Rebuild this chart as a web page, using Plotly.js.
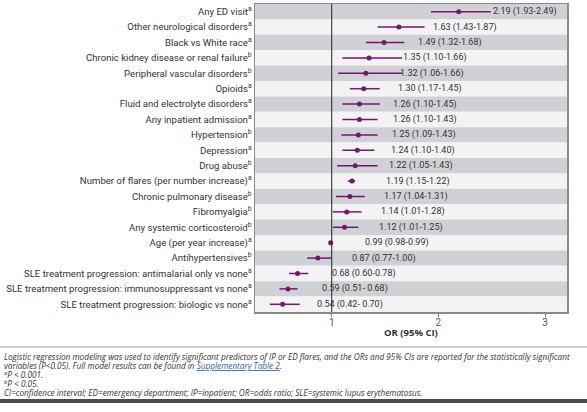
<!DOCTYPE html>
<html>
<head>
<meta charset="utf-8">
<script src="https://cdn.plot.ly/plotly-3.0.1.min.js"></script>
<style>html,body{margin:0;padding:0;background:#fff;}#chart{width:587px;height:412px;}</style>
</head>
<body>
<div id="chart"></div>
<script>
const labels = [
  "Any ED visit", "Other neurological disorders", "Black vs White race",
  "Chronic kidney disease or renal failure", "Peripheral vascular disorders",
  "Opioids", "Fluid and electrolyte disorders", "Any inpatient admission",
  "Hypertension", "Depression", "Drug abuse",
  "Number of flares (per number increase)", "Chronic pulmonary disease",
  "Fibromyalgia", "Any systemic corticosteroid", "Age (per year increase)",
  "Antihypertensives", "SLE treatment progression: antimalarial only vs none",
  "SLE treatment progression: immunosuppressant vs none",
  "SLE treatment progression: biologic vs none"
];
const sig = ["a","a","a","b","b","a","a","a","b","a","b","a","b","b","b","a","b","a","a","a"];
const orVals = [2.19,1.63,1.49,1.35,1.32,1.30,1.26,1.26,1.25,1.24,1.22,1.19,1.17,1.14,1.12,0.99,0.87,0.68,0.59,0.54];
const lower  = [1.93,1.43,1.32,1.10,1.06,1.17,1.10,1.10,1.09,1.10,1.05,1.15,1.04,1.01,1.01,0.98,0.77,0.60,0.51,0.42];
const upper  = [2.49,1.87,1.68,1.66,1.66,1.45,1.45,1.43,1.43,1.40,1.43,1.22,1.31,1.28,1.25,0.99,1.00,0.78,0.68,0.70];
const ciText = ["2.19 (1.93-2.49)","1.63 (1.43-1.87)","1.49 (1.32-1.68)","1.35 (1.10-1.66)",
  "1.32 (1.06-1.66)","1.30 (1.17-1.45)","1.26 (1.10-1.45)","1.26 (1.10-1.43)",
  "1.25 (1.09-1.43)","1.24 (1.10-1.40)","1.22 (1.05-1.43)","1.19 (1.15-1.22)",
  "1.17 (1.04-1.31)","1.14 (1.01-1.28)","1.12 (1.01-1.25)","0.99 (0.98-0.99)",
  "0.87 (0.77-1.00)","0.68 (0.60-0.78)","0.59 (0.51- 0.68)","0.54 (0.42- 0.70)"];
const xTicks = [1, 2, 3];
const xTitle = "OR (95% CI)";
const footLines = [
  "<i>Logistic regression modeling was used to identify significant predictors of IP or ED flares, and the ORs and 95% CIs are reported for the statistically significant</i>",
  "<i>variables (P&lt;0.05). Full model results can be found in <span style=\"color:#2b5f9e;text-decoration:underline\">Supplementary Table 2</span>.</i>",
  "<i><sup>a</sup>P &lt; 0.001.</i>",
  "<i><sup>b</sup>P &lt; 0.05.</i>",
  "<i>CI=confidence interval; ED=emergency department; IP=inpatient; OR=odds ratio; SLE=systemic lupus erythematosus.</i>"
];

const W = 587, H = 412;
const mL = 255, mR = 20, mT = 4, mB = 100;
const plotW = W - mL - mR, plotH = H - mT - mB;
const py = (pix) => (H - mB - pix) / plotH;
const px = (pix) => (pix - mL) / plotW;
const lab = 'Roboto,"Open Sans",sans-serif';

const idx = labels.map((_, i) => i);
const tickText = labels.map((l, i) => l + "<sup>" + sig[i] + "</sup>");

const shapes = [];
idx.forEach(i => {
  shapes.push({type:'rect', xref:'paper', yref:'y', x0:0, x1:1, y0:i-0.5, y1:i+0.5,
    fillcolor: i % 2 === 0 ? '#d0d1d6' : '#f3f3f3', line:{width:0}, layer:'below'});
});
shapes.push({type:'line', xref:'x', yref:'paper', x0:1, x1:1, y0:0, y1:1, line:{color:'#222', width:1}});
shapes.push({type:'line', xref:'paper', yref:'paper', x0:px(0), x1:px(587), y0:py(347), y1:py(347), line:{color:'#999', width:1}});
shapes.push({type:'line', xref:'paper', yref:'paper', x0:px(0), x1:px(587), y0:py(401), y1:py(401), line:{color:'#4a4a4a', width:4}});

const annotations = [];
idx.forEach(i => {
  annotations.push({x: orVals[i], y: i, xref:'x', yref:'y', text: ciText[i], showarrow:false,
    xanchor:'left', yanchor:'middle', xshift: 32,
    font:{family:lab, size:9, color:'#333'}});
});
annotations.push({x:0.5, y:py(332), xref:'paper', yref:'paper', text:'<b>'+xTitle+'</b>', showarrow:false,
  xanchor:'center', yanchor:'middle', font:{family:'"Open Sans",sans-serif', size:9.5, color:'#333'}});
const footY = [356, 365, 374, 383, 392];
footLines.forEach((t, k) => {
  annotations.push({x: px(2), y: py(footY[k]), xref:'paper', yref:'paper', text:t, showarrow:false,
    xanchor:'left', yanchor:'middle', align:'left',
    font:{family:'"Open Sans",Lato,sans-serif', size:8.2, color:'#333'}});
});

const trace = {
  type:'scatter', mode:'markers', x: orVals, y: idx,
  marker:{color:'#75166f', size:5},
  error_x:{type:'data', symmetric:false,
    array: orVals.map((v,i) => upper[i]-v), arrayminus: orVals.map((v,i) => v-lower[i]),
    color:'#75166f', thickness:1.5, width:0},
  hoverinfo:'skip', showlegend:false, cliponaxis:false
};

const layout = {
  width: W, height: H,
  margin:{l:mL, r:mR, t:mT, b:mB, pad:0},
  paper_bgcolor:'#fff', plot_bgcolor:'#fff',
  font:{family:'"Open Sans",sans-serif', color:'#333'},
  showlegend:false,
  xaxis:{range:[0.281, 3.205], tickvals:xTicks, ticktext:xTicks.map(String),
    showgrid:false, zeroline:false, showline:true, mirror:true, linecolor:'#8a8a8a', linewidth:1.5,
    ticks:'outside', ticklen:3, tickcolor:'#777', ticklabelstandoff:-3, tickfont:{family:lab, size:10, color:'#555'}},
  yaxis:{range:[labels.length-0.5, -0.5], tickvals: idx, ticktext: tickText,
    showgrid:false, zeroline:false, showline:true, mirror:true, linecolor:'#8a8a8a', linewidth:1.5,
    ticks:'', ticklen:0, tickfont:{family:lab, size:9.6, color:'#333'}, automargin:false},
  shapes: shapes,
  annotations: annotations
};

Plotly.newPlot('chart', [trace], layout, {displayModeBar:false, staticPlot:true});
</script>
</body>
</html>
